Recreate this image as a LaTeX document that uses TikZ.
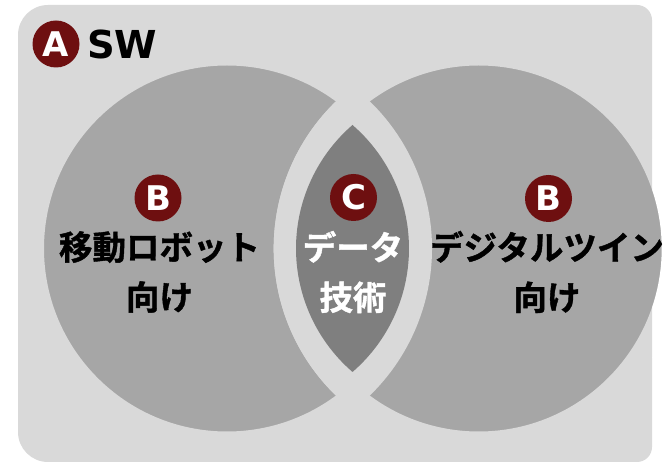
\documentclass[tikz,border=0pt]{standalone}
\usepackage{fontspec}
\setmainfont{DejaVu Sans}
\newfontfamily\jpb{Noto Sans CJK JP Bold}[FakeBold=1.2]
\definecolor{bgc}{HTML}{D9D9D9}
\definecolor{circc}{HTML}{A6A6A6}
\definecolor{lensc}{HTML}{7F7F7F}
\definecolor{badgec}{HTML}{6E0F10}
\begin{document}
\begin{tikzpicture}[x=1pt,y=1pt,
  circfill/.style={fill=circc},
  rimout/.style={draw=white, line width=22pt},
  rimin/.style={draw=bgc, line width=22pt},
  lensband/.style={fill=bgc, draw=bgc, line width=22pt, line join=round},
  badge/.style={circle, fill=badgec, text=white, inner sep=0pt, minimum size=47pt,
    font=\fontsize{34}{34}\selectfont\bfseries},
  jptext/.style={align=center, inner sep=0pt, font=\fontsize{33.5}{50}\jpb},
  title/.style={inner sep=0pt, font=\fontsize{38.5}{40}\selectfont\bfseries}]
\useasboundingbox (0,0) rectangle (664,463);
\def\bgpath{(48,458) -- (637,458) arc[start angle=90,end angle=0,radius=15]
  -- (652,16) arc[start angle=0,end angle=-90,radius=15]
  -- (48,1) arc[start angle=270,end angle=180,radius=30]
  -- (18,428) arc[start angle=180,end angle=90,radius=30] -- cycle}
\fill[bgc] \bgpath;
\coordinate (L) at (227,214.5);
\coordinate (R) at (478.7,214.5);
% left circle
\path[circfill] (L) circle[radius=194];
\begin{scope}
  \clip \bgpath;
  \path[rimin] (L) circle[radius=194];
\end{scope}
% right circle
\path[circfill] (R) circle[radius=194];
\begin{scope}
  \clip (652,0) rectangle (664,463);
  \path[rimout] (R) circle[radius=194];
\end{scope}
\begin{scope}
  \clip \bgpath;
  \path[rimin] (R) circle[radius=194];
\end{scope}
% lens
\path[lensband] (352.85,362.2) arc[start angle=49.56,end angle=-49.56,radius=194]
  arc[start angle=229.56,end angle=130.44,radius=194] -- cycle;
\fill[lensc] (352.5,338) arc[start angle=49.17,end angle=-49.17,radius=163.2]
  arc[start angle=229.17,end angle=130.83,radius=163.2] -- cycle;
\node[badge] (a) at (56,419) {A};
\node[title, anchor=west] (sw) at (87,418.5) {SW};
\node[badge] (bl) at (158,265) {B};
\node[badge] (bc) at (353.5,265.5) {C};
\node[badge] (br) at (548.5,264.5) {B};
\node[jptext] (tl) at (159.5,191) {移動ロボット\\向け};
\node[jptext, text=white] (tc) at (353,191) {データ\\技術};
\node[jptext] (tr) at (547,191) {デジタルツイン\\向け};
\end{tikzpicture}
\end{document}
